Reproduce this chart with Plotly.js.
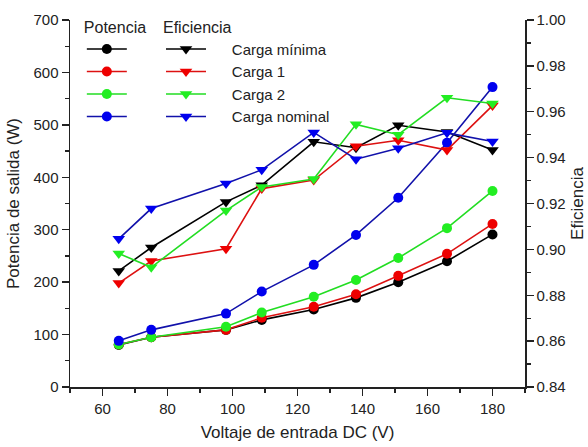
<!DOCTYPE html>
<html>
<head>
<meta charset="utf-8">
<script src="https://cdn.plot.ly/plotly-3.0.1.min.js"></script>
<style>html,body{margin:0;padding:0;background:#fff}#chart{width:588px;height:447px}</style>
</head>
<body>
<div id="chart"></div>
<script>
// Input voltage (V)
const voltage = [65, 75, 98, 109, 125, 138, 151, 166, 180];

// Output power (W)
const powerMin     = [80, 95, 109, 128, 148, 170, 200, 240, 291];
const powerCarga1  = [81, 95, 109, 132, 153, 177, 212, 254, 311];
const powerCarga2  = [81, 95, 115, 142, 172, 204, 246, 303, 374];
const powerNominal = [88, 109, 140, 182, 233, 290, 361, 466, 572];

// Efficiency
const effMin     = [0.8906, 0.9008, 0.9207, 0.9280, 0.9469, 0.9443, 0.9541, 0.9512, 0.9433];
const effCarga1  = [0.8853, 0.8949, 0.9003, 0.9265, 0.9302, 0.9450, 0.9476, 0.9433, 0.9627];
const effCarga2  = [0.8982, 0.8922, 0.9169, 0.9272, 0.9307, 0.9545, 0.9500, 0.9661, 0.9636];
const effNominal = [0.9046, 0.9178, 0.9287, 0.9347, 0.9510, 0.9393, 0.9441, 0.9508, 0.9470];

const seriesNames = ['Carga mínima', 'Carga 1', 'Carga 2', 'Carga nominal'];
const lineColors   = ['#000000', '#dd1111', '#22dd22', '#1111aa'];
const markerColors = ['#000000', '#ee0000', '#22ee22', '#0000ee'];

const powers = [powerMin, powerCarga1, powerCarga2, powerNominal];
const effs   = [effMin, effCarga1, effCarga2, effNominal];

const pad = '\u00a0\u00a0\u00a0\u00a0\u00a0';

const traces = [];
powers.forEach((p, i) => {
  traces.push({
    x: voltage, y: p, type: 'scatter', mode: 'lines+markers',
    name: ' ', legend: 'legend', yaxis: 'y',
    line: {color: lineColors[i], width: 1.6},
    marker: {symbol: 'circle', size: 10, color: markerColors[i]},
    hoverinfo: 'x+y'
  });
});
effs.forEach((e, i) => {
  traces.push({
    x: voltage, y: e, type: 'scatter', mode: 'lines+markers',
    name: pad + seriesNames[i], legend: 'legend2', yaxis: 'y2',
    line: {color: lineColors[i], width: 1.6},
    marker: {symbol: 'triangle-down', size: 11, color: markerColors[i]},
    hoverinfo: 'x+y'
  });
});

const fam = 'Liberation Sans, Arial, sans-serif';
const titleFont = {family: fam, size: 17, color: '#222'};
const legendFont = {family: fam, size: 15, color: '#222'};
const legendTitleFont = {family: fam, size: 16, color: '#222'};
const tickFont = {family: fam, size: 15, color: '#222'};

const layout = {
  width: 588, height: 447,
  margin: {l: 70, r: 63, t: 15, b: 60, pad: 0},
  paper_bgcolor: '#fff', plot_bgcolor: '#fff',
  font: titleFont,
  xaxis: {
    range: [50, 190], dtick: 20, tick0: 0,
    showgrid: false, zeroline: false,
    showline: true, linecolor: '#222', linewidth: 1.5,
    ticks: 'outside', ticklen: 7, tickwidth: 1.3, tickcolor: '#222',
    minor: {dtick: 10, ticks: 'outside', ticklen: 4, tickwidth: 1.3, tickcolor: '#222', showgrid: false},
    tickfont: tickFont,
    title: {text: 'Voltaje de entrada DC (V)', font: titleFont, standoff: 10}
  },
  yaxis: {
    range: [0, 700], dtick: 100,
    showgrid: false, zeroline: false,
    showline: true, linecolor: '#222', linewidth: 1.5,
    ticks: 'outside', ticklen: 7, tickwidth: 1.3, tickcolor: '#222',
    minor: {dtick: 50, ticks: 'outside', ticklen: 4, tickwidth: 1.3, tickcolor: '#222', showgrid: false},
    tickfont: tickFont,
    title: {text: 'Potencia de salida (W)', font: titleFont, standoff: 9}
  },
  yaxis2: {
    range: [0.84, 1.00], dtick: 0.02, tickformat: '.2f',
    overlaying: 'y', side: 'right',
    showgrid: false, zeroline: false,
    showline: true, linecolor: '#222', linewidth: 1.5,
    ticks: 'outside', ticklen: 7, tickwidth: 1.3, tickcolor: '#222',
    minor: {dtick: 0.01, ticks: 'outside', ticklen: 4, tickwidth: 1.3, tickcolor: '#222', showgrid: false},
    tickfont: tickFont,
    title: {text: 'Eficiencia', font: titleFont, standoff: 6}
  },
  legend: {
    x: 0.026, y: 1.022, xanchor: 'left', yanchor: 'top',
    bgcolor: 'rgba(0,0,0,0)', borderwidth: 0,
    title: {text: 'Potencia', font: legendTitleFont},
    font: legendFont, itemwidth: 40, tracegroupgap: 0
  },
  legend2: {
    x: 0.2, y: 1.022, xanchor: 'left', yanchor: 'top',
    bgcolor: 'rgba(0,0,0,0)', borderwidth: 0,
    title: {text: 'Eficiencia', font: legendTitleFont},
    font: legendFont, itemwidth: 40, tracegroupgap: 0
  },
  showlegend: true
};

Plotly.newPlot('chart', traces, layout, {displayModeBar: false, staticPlot: true});
</script>
</body>
</html>
